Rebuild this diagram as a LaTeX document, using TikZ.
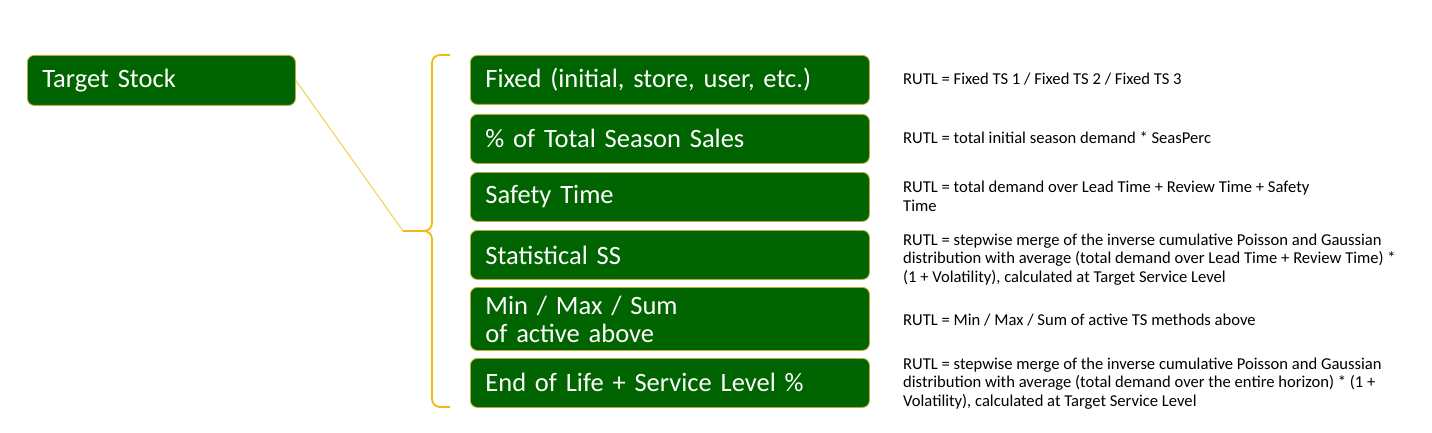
\documentclass[tikz,border=0pt]{standalone}
\usepackage{fontspec}
\setmainfont{Carlito}
\definecolor{boxgreen}{RGB}{0,100,0}
\definecolor{boxedge}{RGB}{190,170,50}
\definecolor{bracegold}{RGB}{242,185,20}
\definecolor{linkgold}{RGB}{240,205,60}
\tikzset{
  optbox/.style={draw=boxedge, fill=boxgreen, line width=0.8pt, rounded corners=7pt,
    text=white, font=\fontsize{26.5}{28}\selectfont, align=left, anchor=north west,
    inner xsep=15pt, inner ysep=0pt, minimum height=49pt, text width=369pt},
  rutl/.style={anchor=west, align=left, inner sep=0pt, font=\fontsize{16.6}{18.5}\selectfont},
  bracegoldline/.style={draw=bracegold, line width=1.8pt, rounded corners=8pt},
  link/.style={draw=linkgold, line width=0.9pt}
}
\begin{document}
\begin{tikzpicture}[x=1pt, y=-1pt]
    \useasboundingbox (0,0) rectangle (1432,433);

    % Nodes
    \node[optbox, text width=238pt, minimum height=50pt] (target) at (27,55) {Target Stock};

    \node[optbox] (fixed) at (470,55) {Fixed (initial, store, user, etc.)};
    \node[optbox] (seas) at (470,114) {\% of Total Season Sales};
    \node[optbox] (safety) at (470,172) {Safety Time};
    \node[optbox] (stat) at (470,230) {Statistical SS};
    \node[optbox, minimum height=63pt] (minmax) at (470,287) {Min / Max / Sum\\of active above};
    \node[optbox] (eol) at (470,358) {End of Life + Service Level \%};

    % Descriptions
    \node[rutl] (dfixed) at (903,79) {RUTL = Fixed TS 1 / Fixed TS 2 / Fixed TS 3};
    \node[rutl] (dseas) at (903,138) {RUTL = total initial season demand * SeasPerc};
    \node[rutl] (dsafety) at (903,196.5) {RUTL = total demand over Lead Time + Review Time + Safety\\Time};
    \node[rutl] (dstat) at (903,259.5) {RUTL = stepwise merge of the inverse cumulative Poisson and Gaussian\\distribution with average (total demand over Lead Time + Review Time) *\\(1 + Volatility), calculated at Target Service Level};
    \node[rutl] (dminmax) at (903,320) {RUTL = Min / Max / Sum of active TS methods above};
    \node[rutl] (deol) at (903,383.5) {RUTL = stepwise merge of the inverse cumulative Poisson and Gaussian\\distribution with average (total demand over the entire horizon) * (1 +\\Volatility), calculated at Target Service Level};

    % Brace
    \coordinate (tip) at (403,231);
    \draw[bracegoldline] (450,55) -- (432,55) -- (432,231) -- (tip);
    \draw[bracegoldline] (450,407) -- (432,407) -- (432,231) -- (tip);

    % Link
    \draw[link] (target.east) -- (tip);
\end{tikzpicture}
\end{document}
